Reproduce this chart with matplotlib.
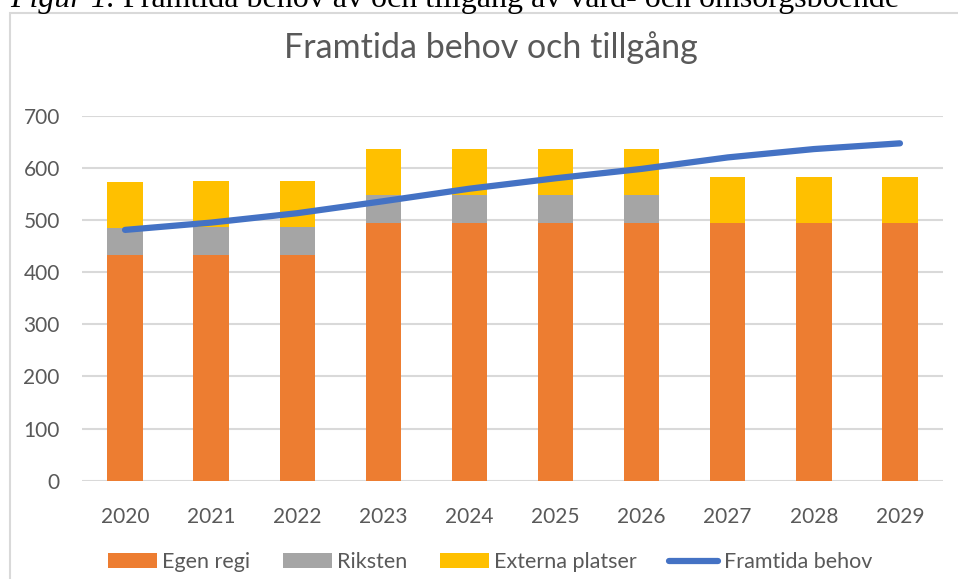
import matplotlib
matplotlib.use("Agg")
import matplotlib.pyplot as plt
from matplotlib.patches import Rectangle
import numpy as np

plt.rcParams['font.family'] = ['Lato', 'DejaVu Sans']

# data
years = ['2020', '2021', '2022', '2023', '2024', '2025', '2026', '2027', '2028', '2029']
egen_regi = [432, 433, 433, 494, 494, 494, 494, 494, 494, 494]
riksten = [53, 54, 54, 54, 54, 54, 54, 0, 0, 0]
externa = [88, 88, 88, 88, 88, 88, 88, 88, 88, 88]
behov = [481, 495, 513, 536, 560, 580, 598, 620, 636, 647]

c_egen = '#ED7D31'
c_riks = '#A5A5A5'
c_ext = '#FFC000'
c_line = '#4472C4'
c_text = '#595959'
c_grid = '#D9D9D9'

W, H = 958, 579
fig = plt.figure(figsize=(W / 100, H / 100), dpi=100)

# chart frame (Excel chart area border)
fig.add_artist(Rectangle((10 / W, -0.05), 1.2, 1.05 - 13 / H, transform=fig.transFigure,
                         facecolor='none', edgecolor=c_grid, linewidth=1.5, zorder=-1))

# caption above the chart, cut off by the top edge
cap_y = 1 - 6.5 / H
cap1 = fig.text(10 / W, cap_y, 'Figur 1.', family='Liberation Serif', style='italic',
                fontsize=23, va='baseline', ha='left', color='black')
fig.canvas.draw()
bb = cap1.get_window_extent(fig.canvas.get_renderer())
fig.text(bb.x1 / W, cap_y, ' Framtida behov av och tillgång av vård- och omsorgsboende',
         family='Liberation Serif', fontsize=23, va='baseline', ha='left', color='black')

ax = fig.add_axes([82 / W, 1 - 480.7 / H, (943 - 82) / W, (480.7 - 115.7) / H])
ax.set_facecolor('none')

x = np.arange(len(years))
w = 0.41
b1 = np.array(egen_regi)
b2 = b1 + np.array(riksten)
h1 = ax.bar(x, egen_regi, w, color=c_egen, label='Egen regi', zorder=2)
h2 = ax.bar(x, riksten, w, bottom=b1, color=c_riks, label='Riksten', zorder=2)
h3 = ax.bar(x, externa, w, bottom=b2, color=c_ext, label='Externa platser', zorder=2)
h4, = ax.plot(x, behov, color=c_line, linewidth=4.5, solid_capstyle='round',
              solid_joinstyle='round', label='Framtida behov', zorder=3)

ax.set_xlim(-0.5, len(years) - 0.5)
ax.set_ylim(0, 700)
ax.set_yticks(range(0, 701, 100))
ax.set_xticks(x)
ax.set_xticklabels(years)
ax.yaxis.grid(True, color=c_grid, linewidth=1.5, zorder=0)
ax.set_axisbelow(True)
for s in ax.spines.values():
    s.set_visible(False)
ax.tick_params(length=0, labelsize=15, colors=c_text)
ax.tick_params(axis='y', pad=16)
ax.tick_params(axis='x', pad=19)

fig.text(491 / W, 1 - 48 / H, 'Framtida behov och tillgång', ha='center', va='center',
         fontsize=24.5, color=c_text)

fig.legend(handles=[h1, h2, h3, h4], loc='center', bbox_to_anchor=(490 / W, 1 - 562 / H),
           ncol=4, frameon=False, fontsize=15.5, labelcolor=c_text, handlelength=2.28,
           handleheight=0.65, handletextpad=0.25, columnspacing=1.5)

fig.savefig('out.png', dpi=100)
